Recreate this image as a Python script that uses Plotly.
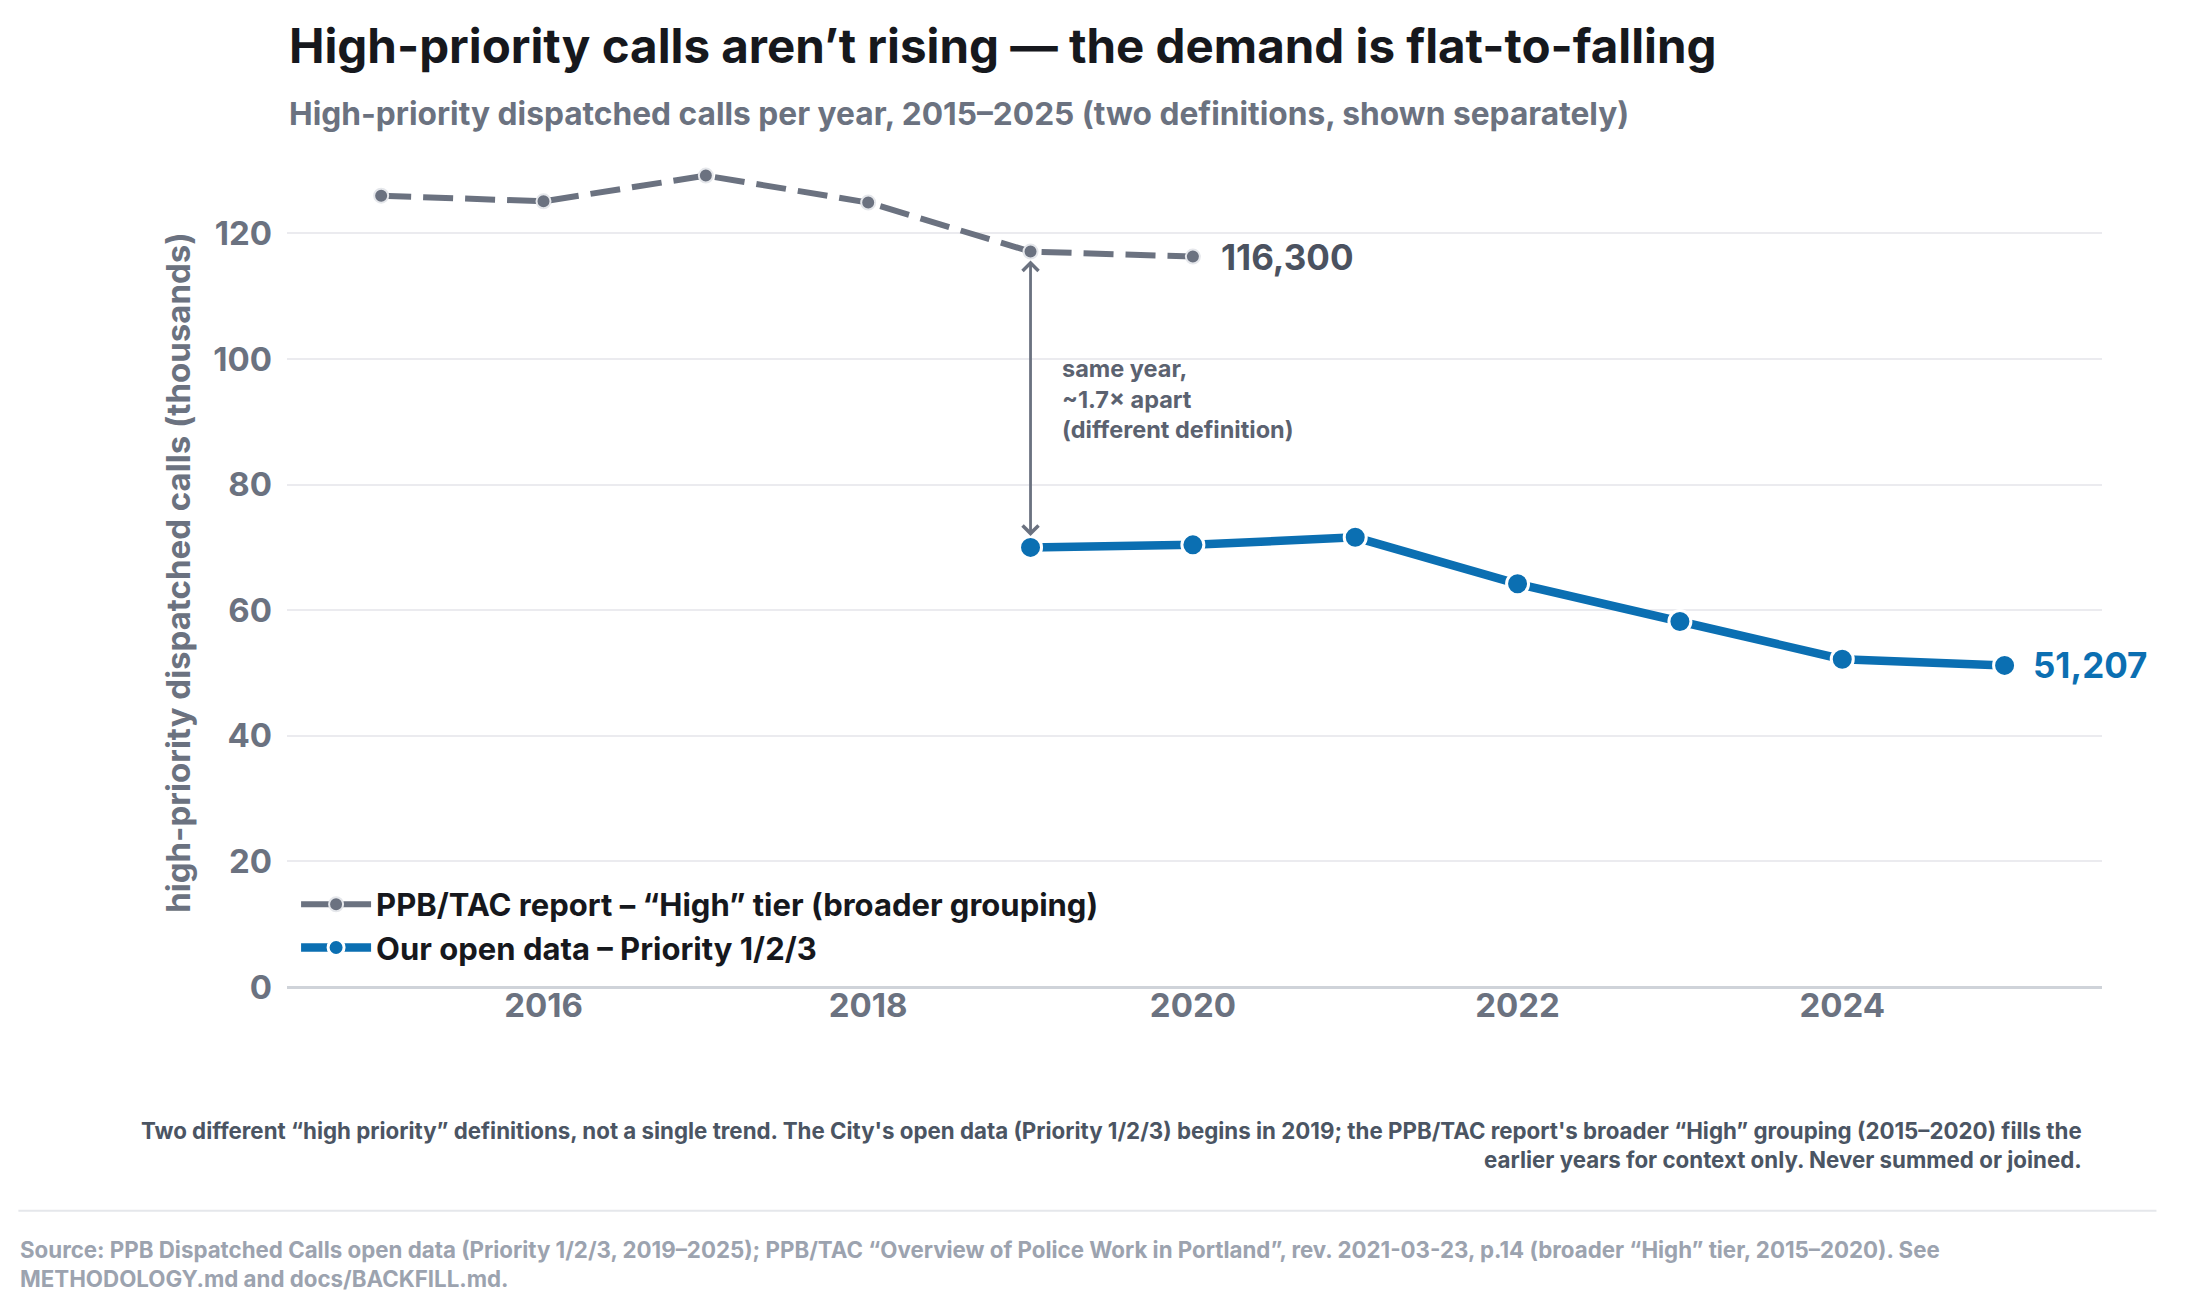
#high-priority calls chart - two definitions, kept separate
import plotly.graph_objects as go

#data (thousands of calls)
tac_years = [2015, 2016, 2017, 2018, 2019, 2020]
tac_calls = [126.0, 125.1, 129.2, 124.9, 117.1, 116.3]

open_years = [2019, 2020, 2021, 2022, 2023, 2024, 2025]
open_calls = [70.0, 70.4, 71.6, 64.2, 58.2, 52.2, 51.207]

x_ticks = [2016, 2018, 2020, 2022, 2024]
y_ticks = [0, 20, 40, 60, 80, 100, 120]

GRAY = '#6b7280'
BLUE = '#0b6fb2'
FONT = 'Inter'

fig = go.Figure()

#broader TAC grouping, dashed
fig.add_trace(go.Scatter(x=tac_years, y=tac_calls, mode='lines+markers',
    name='PPB/TAC report – “High” tier (broader grouping)',
    line=dict(color=GRAY, width=6, dash='30px,12px'),
    marker=dict(size=14, color=GRAY, line=dict(color='#e5e7eb', width=2))))

#open data priority 1/2/3
fig.add_trace(go.Scatter(x=open_years, y=open_calls, mode='lines+markers',
    name='Our open data – Priority 1/2/3',
    line=dict(color=BLUE, width=8.5),
    marker=dict(size=22, color=BLUE, line=dict(color='white', width=3))))

# end labels
fig.add_annotation(x=tac_years[-1], y=tac_calls[-1], text=f'{tac_calls[-1]*1000:,.0f}',
    showarrow=False, xanchor='left', xshift=26,
    font=dict(family=FONT, size=35, color='#4b5260', weight=700))
fig.add_annotation(x=open_years[-1], y=open_calls[-1], text=f'{open_calls[-1]*1000:,.0f}',
    showarrow=False, xanchor='left', xshift=26,
    font=dict(family=FONT, size=35, color=BLUE, weight=700))

# double arrow between the two series in 2019
fig.add_annotation(x=2019, y=tac_calls[tac_years.index(2019)], ax=2019, ay=open_calls[0],
    xref='x', yref='y', axref='x', ayref='y', text='', showarrow=True,
    arrowhead=4, arrowside='end+start', arrowsize=1.1, arrowwidth=2.8, arrowcolor=GRAY,
    standoff=9, startstandoff=10)
fig.add_annotation(x=2019.18, y=93.6, text='same year,<br>~1.7× apart<br>(different definition)',
    showarrow=False, xanchor='left', yanchor='middle', align='left',
    font=dict(family=FONT, size=23.5, color='#5b6270', weight=700))

#titles
fig.add_annotation(xref='paper', yref='paper', x=0, y=1.1357, yanchor='middle', xanchor='left',
    text='High-priority calls aren’t rising — the demand is flat-to-falling', showarrow=False,
    font=dict(family=FONT, size=47.5, color='#16181d', weight=700))
fig.add_annotation(xref='paper', yref='paper', x=0, y=1.054, yanchor='middle', xanchor='left',
    text='High-priority dispatched calls per year, 2015–2025 (two definitions, shown separately)',
    showarrow=False, font=dict(family=FONT, size=31.7, color=GRAY, weight=700))

# footnote + source
fig.add_annotation(xref='paper', yref='paper', x=0.990, y=-0.155, yanchor='top', xanchor='right',
    align='right', showarrow=False,
    text='Two different “high priority” definitions, not a single trend. The City\'s open data (Priority 1/2/3) begins in 2019; the PPB/TAC report\'s broader “High” grouping (2015–2020) fills the<br>earlier years for context only. Never summed or joined.',
    font=dict(family=FONT, size=22.3, color='#4b5563', weight=700))
fig.add_shape(type='line', xref='paper', yref='paper', x0=-0.148, x1=1.03, y0=-0.270, y1=-0.270,
    line=dict(color='#e5e7eb', width=2))
fig.add_annotation(xref='paper', yref='paper', x=-0.148, y=-0.298, yanchor='top', xanchor='left',
    align='left', showarrow=False,
    text='Source: PPB Dispatched Calls open data (Priority 1/2/3, 2019–2025); PPB/TAC “Overview of Police Work in Portland”, rev. 2021-03-23, p.14 (broader “High” tier, 2015–2020). See<br>METHODOLOGY.md and docs/BACKFILL.md.',
    font=dict(family=FONT, size=22.3, color='#9ca3af', weight=700))

# updating plot layout
fig.update_layout(width=2187, height=1306,
    paper_bgcolor='white', plot_bgcolor='white',
    margin=dict(l=279, r=93, t=150, b=327),
    font=dict(family=FONT, color=GRAY),
    legend=dict(x=0.005, y=0.132, xanchor='left', yanchor='top', bgcolor='rgba(0,0,0,0)',
        font=dict(family=FONT, size=31, color='#16181d', weight=700), tracegroupgap=0,
        itemwidth=70),
    showlegend=True)

fig.update_xaxes(range=[2014.42, 2025.6], tickvals=x_ticks, showgrid=False, zeroline=False,
    showline=False, tickfont=dict(family=FONT, size=33, color=GRAY, weight=700), ticklabelstandoff=-4)
fig.update_yaxes(range=[0, 132], tickvals=y_ticks, showgrid=True, gridcolor='#ebebef', gridwidth=2,
    zeroline=True, zerolinecolor='#cfd3d9', zerolinewidth=3, showline=False,
    tickfont=dict(family=FONT, size=33, color=GRAY, weight=700), ticklabelstandoff=14,
    title=dict(text='high-priority dispatched calls (thousands)', standoff=12,
        font=dict(family=FONT, size=33, color=GRAY, weight=700)))

fig.write_html("out.html")
